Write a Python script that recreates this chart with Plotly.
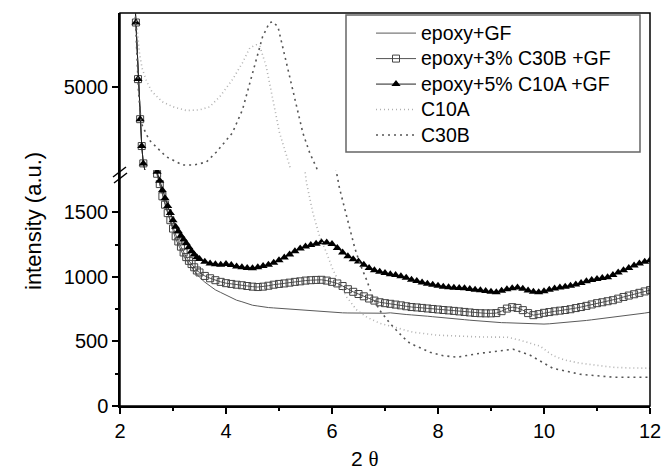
import plotly.graph_objects as go

# ---------------- data ----------------
X_EPOXY = [2.27, 2.30, 2.34, 2.38, 2.41, 2.44, 2.52, 2.60, 2.66,
           2.70, 2.75, 2.80, 2.85, 2.90, 2.95, 3.00, 3.05, 3.10, 3.15, 3.20, 3.25, 3.30, 3.35, 3.40, 3.45, 3.50,
           3.6, 3.7, 3.8, 3.9,
           4.0, 4.1, 4.2, 4.3, 4.4, 4.5, 4.6, 4.7, 4.8, 4.9,
           5.0, 5.1, 5.2, 5.3, 5.4, 5.5, 5.6, 5.7, 5.8, 5.9,
           6.0, 6.1, 6.2, 6.3, 6.4, 6.5, 6.6, 6.7, 6.8, 6.9,
           7.0, 7.1, 7.2, 7.3, 7.4, 7.5, 7.6, 7.7, 7.8, 7.9,
           8.0, 8.1, 8.2, 8.3, 8.4, 8.5, 8.6, 8.7, 8.8, 8.9,
           9.0, 9.1, 9.2, 9.3, 9.4, 9.5, 9.6, 9.7, 9.8, 9.9,
           10.0, 10.1, 10.2, 10.3, 10.4, 10.5, 10.6, 10.7, 10.8, 10.9,
           11.0, 11.1, 11.2, 11.3, 11.4, 11.5, 11.6, 11.7, 11.8, 11.9,
           12.0]

Y_EPOXY_GF = [7400, 6570, 5200, 4230, 3580, 3160, 2600, 2200, 1950,
              1790, 1715, 1640, 1570, 1495, 1430, 1360, 1295, 1250, 1210, 1165, 1130, 1100, 1075, 1045, 1020, 998,
              960, 930, 900, 880,
              860, 838, 820, 808, 792, 781, 775, 768, 763, 760,
              757, 752, 750, 746, 743, 741, 737, 733, 730, 727,
              726, 724, 722, 721, 720, 719, 718, 720, 719, 718,
              719, 722, 716, 712, 709, 706, 704, 700, 696, 692,
              689, 685, 681, 677, 673, 669, 665, 661, 657, 654,
              650, 648, 646, 645, 643, 642, 640, 639, 637, 636,
              635, 637, 640, 643, 646, 650, 654, 659, 663, 668,
              673, 677, 682, 687, 691, 696, 702, 708, 714, 720,
              727]

Y_EPOXY_C30B = [7400, 6570, 5200, 4230, 3580, 3160, 2600, 2200, 1960,
                1800, 1720, 1625, 1560, 1495, 1440, 1375, 1315, 1275, 1235, 1190, 1154, 1125, 1100, 1075, 1050, 1035,
                1008, 990, 975, 962,
                952, 946, 940, 936, 930, 925, 922, 925, 932, 940,
                946, 950, 956, 962, 966, 972, 975, 977, 978, 972,
                962, 950, 930, 905, 885, 868, 850, 833, 817, 804,
                797, 792, 786, 780, 773, 767, 764, 760, 756, 752,
                748, 744, 741, 737, 733, 729, 725, 721, 719, 718,
                718, 720, 735, 755, 766, 760, 743, 720, 704, 712,
                722, 728, 734, 739, 744, 750, 759, 767, 776, 787,
                797, 804, 812, 820, 832, 845, 856, 866, 877, 888,
                898]

Y_EPOXY_C10A = [7400, 6570, 5200, 4230, 3580, 3160, 2600, 2200, 1970,
                1815, 1745, 1673, 1610, 1550, 1495, 1440, 1390, 1355, 1320, 1290, 1262, 1230, 1200, 1175, 1152, 1140,
                1118, 1105, 1098, 1095,
                1100, 1092, 1082, 1076, 1070, 1068, 1075, 1085, 1095, 1110,
                1130, 1150, 1175, 1200, 1220, 1236, 1248, 1258, 1270, 1268,
                1255, 1225, 1190, 1160, 1138, 1120, 1095, 1070, 1052, 1040,
                1030, 1022, 1015, 1006, 993, 978, 968, 958, 948, 940,
                932, 925, 920, 917, 914, 912, 906, 900, 897, 892,
                886, 882, 893, 905, 913, 918, 908, 895, 885, 882,
                890, 900, 910, 918, 925, 932, 942, 954, 966, 977,
                985, 992, 998, 1015, 1035, 1052, 1070, 1088, 1105, 1118,
                1130]

X_C10A = [2.28, 2.33, 2.37, 2.42, 2.50, 2.60, 2.80, 3.00, 3.25, 3.50, 3.69, 3.88, 4.12, 4.31,
          4.45, 4.57, 4.64, 4.76, 4.88, 5.01, 5.15, 5.28, 5.40, 5.52, 5.64, 5.77, 5.90, 6.02,
          6.15, 6.28, 6.47, 6.66, 6.90, 7.23, 7.53, 7.98, 8.42, 8.80, 9.31, 9.55, 9.93, 10.17,
          10.40, 10.68, 11.00, 11.31, 11.60, 11.95, 12.0]
Y_C10A = [7000, 6400, 5800, 5450, 5150, 4900, 4650, 4530, 4440, 4455, 4528, 4770, 5183, 5595,
          5958, 6031, 5990, 5500, 4700, 3900, 3315, 2700, 2100, 1728, 1495, 1309, 1185, 1053,
          952, 843, 742, 688, 641, 603, 572, 549, 541, 535, 533, 510, 463, 390,
          355, 332, 315, 300, 295, 293, 293]

X_C30B = [2.28, 2.32, 2.35, 2.40, 2.55, 2.87, 3.18, 3.40, 3.63, 3.82, 4.12, 4.31, 4.45, 4.58,
          4.69, 4.82, 4.88, 4.98, 5.07, 5.20, 5.34, 5.45, 5.58, 5.71, 5.85, 6.00, 6.14, 6.24,
          6.34, 6.43, 6.53, 6.66, 6.77, 6.90, 7.09, 7.34, 7.47, 7.85, 8.10, 8.36, 8.80, 9.10,
          9.42, 9.74, 10.17, 10.68, 11.31, 11.95, 12.0]
Y_C30B = [7000, 5600, 4870, 4132, 3728, 3323, 3121, 3120, 3194, 3437, 3897, 4455, 5110, 5668,
          6225, 6565, 6589, 6468, 5983, 5255, 4528, 3897, 3412, 3048, 2500, 2000, 1690, 1535,
          1380, 1224, 1100, 970, 843, 742, 642, 533, 486, 417, 390, 378, 409, 425,
          440, 393, 292, 246, 223, 223, 223]

X_TICKS = [2, 4, 6, 8, 10, 12]
Y_LOW_TICKS = [0, 500, 1000, 1500]
Y_HIGH_TICKS = [5000]

assert len(X_EPOXY) == len(Y_EPOXY_GF) == len(Y_EPOXY_C30B) == len(Y_EPOXY_C10A)
assert len(X_C10A) == len(Y_C10A)
assert len(X_C30B) == len(Y_C30B)

# ---------------- figure ----------------
FONT = "Liberation Sans, Arial, sans-serif"
fig = go.Figure()

series = [
    ("epoxy+GF", X_EPOXY, Y_EPOXY_GF,
     dict(mode="lines", line=dict(color="#5a5a5a", width=1))),
    ("epoxy+3% C30B +GF", X_EPOXY, Y_EPOXY_C30B,
     dict(mode="lines+markers", line=dict(color="#555555", width=1),
          marker=dict(symbol="square-open", size=7, color="#444444", line=dict(width=1, color="#444444")))),
    ("epoxy+5% C10A +GF", X_EPOXY, Y_EPOXY_C10A,
     dict(mode="lines+markers", line=dict(color="#222222", width=1),
          marker=dict(symbol="triangle-up", size=8, color="black"))),
    ("C10A", X_C10A, Y_C10A,
     dict(mode="lines", line=dict(color="#b0b0b0", width=1.6, dash="1px,3px"))),
    ("C30B", X_C30B, Y_C30B,
     dict(mode="lines", line=dict(color="#555555", width=1.6, dash="2px,4px"))),
]

for name, xs, ys, style in series:
    label = "<span style='font-size:19.5px'>" + name + "</span>"
    fig.add_trace(go.Scatter(x=xs, y=ys, name=label, legendgroup=name, xaxis="x", yaxis="y",
                             showlegend=True, **style))
    fig.add_trace(go.Scatter(x=xs, y=ys, name=label, legendgroup=name, xaxis="x", yaxis="y2",
                             showlegend=False, **style))

BREAK = 0.6005
axis_common = dict(showline=True, linecolor="black", linewidth=1.5, ticks="outside",
                   tickwidth=1.5, tickcolor="black", ticklen=6, showgrid=False, zeroline=False,
                   tickfont=dict(family=FONT, size=20, color="black"))

fig.update_layout(
    width=665, height=473,
    margin=dict(l=120, r=15, t=13, b=67, autoexpand=False),
    paper_bgcolor="white", plot_bgcolor="white",
    font=dict(family=FONT, color="black"),
    xaxis=dict(range=[2, 12], tickvals=X_TICKS, anchor="y",
               minor=dict(ticks="outside", ticklen=3, tickwidth=1.5, tickcolor="black",
                          tickvals=[3, 5, 7, 9, 11]),
               **axis_common),
    yaxis=dict(domain=[0, BREAK], range=[0, 1829], tickvals=Y_LOW_TICKS, anchor="x",
               minor=dict(ticks="outside", ticklen=3, tickwidth=1.5, tickcolor="black",
                          tickvals=[250, 750, 1250]),
               **axis_common),
    yaxis2=dict(domain=[BREAK, 1], range=[3000, 6800], tickvals=Y_HIGH_TICKS, anchor="x",
                **axis_common),
    showlegend=True,
    legend=dict(x=0.4736, y=0.994, xanchor="left", yanchor="top",
                bgcolor="rgba(0,0,0,0)", borderwidth=0,
                font=dict(family=FONT, size=17.3, color="black"),
                itemwidth=40, tracegroupgap=0),
)

# plot frame, legend frame and axis-break marks
PW, PH = 530.0, 393.0
def px_x(p):
    return (p - 120) / PW
def px_y(p):
    return (406 - p) / PH

shapes = [
    dict(type="rect", xref="paper", yref="paper", x0=0, x1=1, y0=0, y1=1,
         line=dict(color="black", width=1.5)),
    dict(type="rect", xref="paper", yref="paper", x0=px_x(346), x1=px_x(640), y0=px_y(152), y1=px_y(15),
         line=dict(color="#666666", width=1.5)),
    dict(type="line", xref="paper", yref="paper", x0=px_x(113), x1=px_x(126), y0=px_y(177), y1=px_y(167),
         line=dict(color="black", width=1.5)),
    dict(type="line", xref="paper", yref="paper", x0=px_x(114), x1=px_x(127), y0=px_y(183), y1=px_y(173),
         line=dict(color="black", width=1.5)),
]
fig.update_layout(shapes=shapes)

fig.add_annotation(text="intensity (a.u.)", xref="paper", yref="paper",
                   x=px_x(33), y=px_y(221), xanchor="center", yanchor="middle",
                   textangle=-90, showarrow=False,
                   font=dict(family=FONT, size=22, color="black"))
fig.add_annotation(text="2 <span style='font-family:Liberation Serif'>θ</span>",
                   xref="paper", yref="paper", x=px_x(365), y=px_y(459),
                   xanchor="center", yanchor="middle", showarrow=False,
                   font=dict(family=FONT, size=21, color="black"))

fig.write_html("out.html", post_script="document.body.style.margin='0';",
               config={"displayModeBar": False})
